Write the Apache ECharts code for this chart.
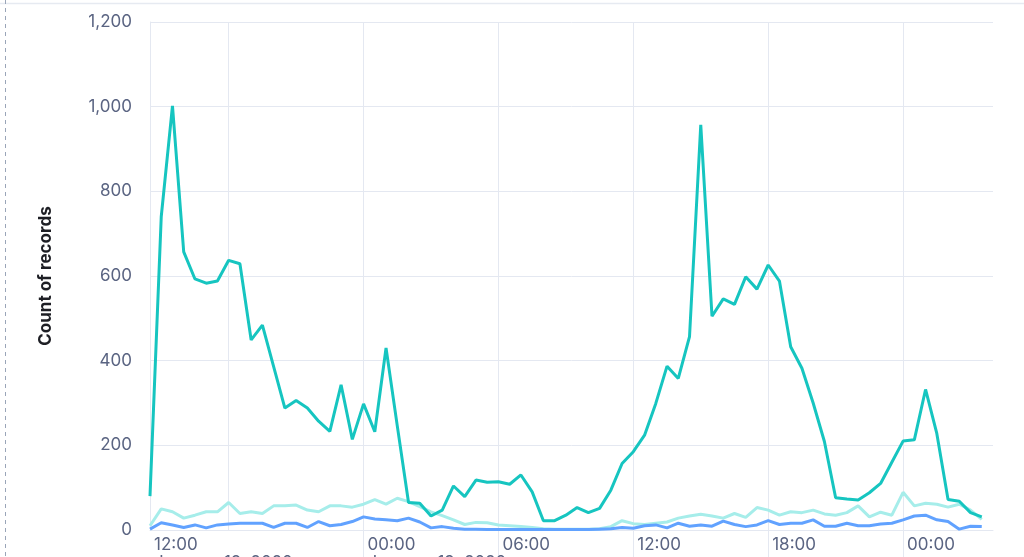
<!DOCTYPE html>
<html>
<head>
<meta charset="utf-8">
<script src="https://cdn.jsdelivr.net/npm/echarts@6/dist/echarts.min.js"></script>
<style>
html,body{margin:0;padding:0;background:#fff;}
#chart{width:1024px;height:557px;}
</style>
</head>
<body>
<div id="chart"></div>
<script>
// ---- data (30-minute buckets starting Jan 18, 2020 14:30) ----
const START = Date.UTC(2020, 0, 18, 14, 30);
const STEP = 30 * 60 * 1000;
const AXIS_MAX = Date.UTC(2020, 0, 20, 4, 0);

const seriesNames = ['Series A', 'Series B', 'Series C'];

const valuesA = [80, 740, 1002, 657, 593, 583, 588, 637, 629, 449,
  484, 386, 288, 306, 288, 257, 233, 343, 214, 298,
  232, 430, 246, 65, 63, 33, 47, 104, 79, 118,
  113, 114, 108, 130, 90, 22, 22, 35, 53, 41,
  51, 94, 157, 185, 224, 299, 387, 358, 457, 957,
  505, 546, 533, 598, 569, 626, 588, 433, 382, 300,
  209, 76, 73, 71, 88, 110, 160, 210, 213, 332,
  228, 72, 68, 41, 31];

const valuesB = [10, 50, 43, 28, 35, 43, 43, 65, 39, 43,
  39, 57, 57, 59, 47, 43, 57, 57, 54, 61,
  72, 61, 75, 67, 55, 43, 34, 24, 13, 18,
  17, 12, 10, 8, 6, 3, 2, 2, 2, 2,
  3, 8, 22, 15, 13, 16, 19, 28, 33, 37,
  33, 28, 39, 30, 53, 47, 35, 43, 41, 47,
  38, 35, 41, 57, 31, 42, 35, 89, 57, 63,
  61, 54, 61, 47, 25];

const valuesC = [2, 17, 12, 6, 12, 5, 12, 14, 16, 16,
  16, 6, 16, 16, 6, 20, 10, 13, 20, 31,
  26, 24, 22, 28, 19, 5, 8, 4, 2, 2,
  1, 1, 1, 1, 1, 1, 1, 1, 1, 1,
  2, 3, 6, 4, 10, 12, 5, 16, 9, 12,
  9, 21, 13, 8, 12, 22, 13, 16, 16, 24,
  9, 9, 16, 10, 10, 14, 16, 24, 33, 35,
  24, 20, 2, 9, 8];

const tickTimes = [
  Date.UTC(2020, 0, 18, 18), Date.UTC(2020, 0, 19, 0), Date.UTC(2020, 0, 19, 6),
  Date.UTC(2020, 0, 19, 12), Date.UTC(2020, 0, 19, 18), Date.UTC(2020, 0, 20, 0)
];
// date row shown under these label positions
const dateLabelTimes = [START, Date.UTC(2020, 0, 19, 0)];
const monthNames = ['January','February','March','April','May','June','July','August','September','October','November','December'];

const times = valuesA.map((_, i) => START + i * STEP);
const pair = vals => vals.map((v, i) => [times[i], v]);

function pad(n){ return (n < 10 ? '0' : '') + n; }
function timeLabel(v){
  const d = new Date(v);
  const h = Math.floor(d.getUTCHours() / 6) * 6;
  let s = pad(h) + ':00';
  if (dateLabelTimes.indexOf(v) >= 0) {
    s += '\n' + monthNames[d.getUTCMonth()] + ' ' + d.getUTCDate() + ', ' + d.getUTCFullYear();
  }
  return s;
}

const GRID = '#e4e8f1';
const TEXT = '#5a6482';

const chart = echarts.init(document.getElementById('chart'), null, {renderer: 'canvas'});
chart.setOption({
  animation: false,
  backgroundColor: '#ffffff',
  textStyle: {fontFamily: 'Inter, "Noto Sans", sans-serif'},
  grid: {left: 150, right: 31, top: 22, bottom: 27, containLabel: false, outerBoundsMode: 'none'},
  xAxis: {
    type: 'value',
    min: START,
    max: AXIS_MAX,
    scale: true,
    axisLine: {show: true, lineStyle: {color: GRID, width: 1}},
    axisTick: {show: true, length: 30, lineStyle: {color: GRID, width: 1}, customValues: tickTimes},
    splitLine: {show: true, lineStyle: {color: GRID, width: 1}},
    axisLabel: {
      customValues: [START].concat(tickTimes),
      formatter: timeLabel,
      color: TEXT,
      fontSize: 17,
      fontFamily: 'Inter',
      lineHeight: 18,
      align: 'left',
      verticalAlign: 'top',
      padding: [0, 0, 0, 4],
      margin: 6,
      showMinLabel: true,
      hideOverlap: false
    }
  },
  yAxis: {
    type: 'value',
    min: 0,
    max: 1200,
    interval: 200,
    name: 'Count of records',
    nameLocation: 'middle',
    nameGap: 96,
    nameTextStyle: {fontFamily: 'Inter', fontSize: 17, fontWeight: 700, color: '#1d1e24'},
    axisLine: {show: true, lineStyle: {color: GRID, width: 1}},
    axisTick: {show: false},
    splitLine: {show: true, lineStyle: {color: GRID, width: 1}},
    axisLabel: {
      color: TEXT,
      fontSize: 17,
      fontFamily: 'Inter',
      margin: 18,
      formatter: v => v.toLocaleString('en-US')
    }
  },
  series: [
    {name: seriesNames[1], type: 'line', data: pair(valuesB), showSymbol: false, symbol: 'none',
     lineStyle: {color: '#A6EDEA', width: 3}, itemStyle: {color: '#A6EDEA'}, z: 2},
    {name: seriesNames[2], type: 'line', data: pair(valuesC), showSymbol: false, symbol: 'none',
     lineStyle: {color: '#61A2FF', width: 3}, itemStyle: {color: '#61A2FF'}, z: 3},
    {name: seriesNames[0], type: 'line', data: pair(valuesA), showSymbol: false, symbol: 'none',
     lineStyle: {color: '#16C5C0', width: 3}, itemStyle: {color: '#16C5C0'}, z: 4}
  ],
  graphic: [
    {type: 'line', shape: {x1: 0, y1: 3.5, x2: 1024, y2: 3.5}, style: {stroke: '#e6eaf1', lineWidth: 1.5}, silent: true},
    {type: 'line', shape: {x1: 5.5, y1: 0, x2: 5.5, y2: 557}, style: {stroke: '#9aa5b8', lineWidth: 1, lineDash: [4, 4]}, silent: true}
  ]
});
</script>
</body>
</html>
